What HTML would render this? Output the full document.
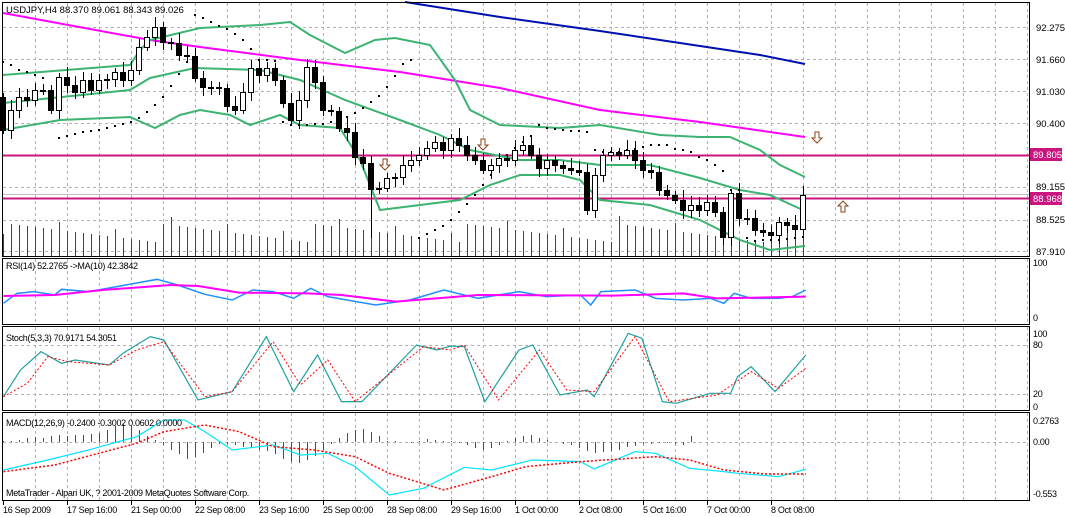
<!DOCTYPE html>
<html><head><meta charset="utf-8"><style>
html,body{margin:0;padding:0;background:#fff;overflow:hidden;width:1065px;height:517px;}
svg{display:block;font-family:"Liberation Sans",sans-serif;}
</style></head><body>
<svg id="s" width="1065" height="517" xmlns="http://www.w3.org/2000/svg">
<rect width="1065" height="517" fill="#fff"/>
<g id="grid" stroke="#b0b0b0" stroke-dasharray="3,3" stroke-width="1"></g>
<g id="main"></g>
<g id="sub" transform="translate(0,250) scale(0.6829,0.3333)"></g>
<g id="frame" fill="none" stroke="#000" stroke-width="1">
<rect x="2.5" y="2.5" width="1027" height="254"/>
<rect x="2.5" y="258.5" width="1027" height="66"/>
<rect x="2.5" y="326.5" width="1027" height="84"/>
<rect x="2.5" y="412.5" width="1027" height="88"/>
</g>
<g font-size="9.5" fill="#000">
<text x="6" y="13">USDJPY,H4  88.370 89.061 88.343 89.026</text>
<text x="1036" y="31">92.275</text>
<text x="1036" y="63">91.660</text>
<text x="1036" y="95">91.030</text>
<text x="1036" y="127">90.400</text>
<text x="1036" y="190">89.155</text>
<text x="1036" y="223">88.525</text>
<text x="1036" y="255">87.910</text>
<rect x="1030" y="148" width="32" height="13" fill="#c8157f"/>
<text x="1033" y="158" fill="#fff">89.805</text>
<rect x="1030" y="192" width="32" height="13" fill="#c8157f"/>
<text x="1033" y="202" fill="#fff">88.968</text>
<g font-size="9" letter-spacing="-0.3">
<text x="6" y="269">RSI(14) 52.2765  -&gt;MA(10) 42.3842</text>
<text x="1033" y="266">100</text><text x="1033" y="321">0</text>
<text x="6" y="341">Stoch(5,3,3) 70.9171 54.3051</text>
<text x="1033" y="337">100</text><text x="1033" y="348">80</text><text x="1033" y="397">20</text><text x="1033" y="410">0</text>
<text x="6" y="426">MACD(12,26,9) -0.2400 -0.3002 0.0602 0.0000</text>
<text x="1033" y="424">0.2763</text><text x="1033" y="445">0.00</text><text x="1033" y="497">-0.553</text>
<text x="6" y="496">MetaTrader - Alpari UK, ? 2001-2009 MetaQuotes Software Corp.</text>
</g>
<g id="tl" font-size="9" letter-spacing="-0.3"></g>
</g>
</svg>
<script>
var NS="http://www.w3.org/2000/svg";
function el(p,t,a){var e=document.createElementNS(NS,t);for(var k in a)e.setAttribute(k,a[k]);document.getElementById(p).appendChild(e);return e;}
for(var x=35;x<1029;x+=32){el('grid','line',{x1:x+.5,y1:3,x2:x+.5,y2:256});el('grid','line',{x1:x+.5,y1:259,x2:x+.5,y2:324});el('grid','line',{x1:x+.5,y1:327,x2:x+.5,y2:410});el('grid','line',{x1:x+.5,y1:413,x2:x+.5,y2:500});}
[27,59,91,123,187,220,251].forEach(function(y){el('grid','line',{x1:3,y1:y+.5,x2:1029,y2:y+.5});});
el('grid','line',{x1:3,y1:194.5,x2:1029,y2:194.5,stroke:'#c0c0c0','stroke-dasharray':'none'});
[345,394].forEach(function(y){el('grid','line',{x1:3,y1:y+.5,x2:1029,y2:y+.5});});
el('grid','line',{x1:3,y1:442.5,x2:1029,y2:442.5});
for(var i=0;i<=100;i++){var x=3+8*i;var h=14+((i*37)%19)+(i%7==0?8:0);if(i==46)h=40;el('main','line',{x1:x+.5,y1:256,x2:x+.5,y2:256-h,stroke:'#007000'});}
function pl(id,pts,c,w,extra){var a={points:pts.map(function(p){return p.join(',')}).join(' '),fill:'none',stroke:c,'stroke-width':w,'vector-effect':'non-scaling-stroke'};for(var k in extra)a[k]=extra[k];return el(id,'polyline',a);}
pl('main',[[3,155.5],[1029,155.5]],'#c8157f',2);
pl('main',[[3,198.5],[1029,198.5]],'#c8157f',2);
pl('main',[[405,2],[500,17],[600,31],[700,46],[760,55],[805,64]],'#0010b0',2);
pl('main',[[3,13],[150,40],[200,47],[300,60],[400,72],[500,88],[600,110],[700,122],[805,137]],'#ff00ff',2);
pl('main',[[3,75],[130,65],[140,50],[150,40],[200,28],[260,25],[290,22],[310,35],[345,53],[375,40],[395,38],[430,45],[455,80],[470,110],[500,125],[560,128],[600,125],[660,135],[700,137],[730,137],[760,150],[780,165],[805,177]],'#3cb371',2);
pl('main',[[3,103],[130,90],[150,78],[195,68],[260,70],[300,80],[345,100],[400,120],[440,135],[470,150],[520,160],[560,160],[600,165],[650,165],[700,178],[740,190],[770,195],[805,211]],'#3cb371',2);
pl('main',[[3,130],[60,120],[130,117],[155,128],[180,115],[200,110],[230,115],[250,125],[280,115],[300,125],[340,128],[360,160],[380,210],[420,205],[460,200],[490,185],[520,175],[560,175],[580,180],[600,200],[650,205],[700,220],[740,240],[770,250],[805,246]],'#3cb371',2);
var sar=[[3,62],[11,65],[19,70],[27,72],[35,75],[43,78],[59,138],[67,136],[75,134],[83,132],[91,131],[99,130],[107,128],[115,126],[123,124],[131,122],[139,118],[147,112],[155,105],[163,97],[171,86],[179,74],[187,62],[195,15],[203,18],[211,22],[219,26],[227,29],[235,34],[243,40],[251,49],[259,60],[267,60],[275,61],[283,122],[291,125],[299,125],[307,125],[315,124],[323,124],[331,122],[339,120],[347,117],[355,113],[363,108],[371,102],[379,96],[387,87],[395,76],[403,64],[411,60],[419,238],[427,234],[435,230],[443,226],[451,220],[459,212],[467,204],[475,195],[483,185],[491,175],[499,165],[507,155],[515,148],[523,142],[531,136],[539,125],[547,128],[555,129],[563,130],[571,131],[579,131],[587,132],[595,150],[603,152],[611,152],[619,152],[627,150],[635,149],[643,147],[651,145],[659,145],[667,145],[675,149],[683,150],[691,152],[699,157],[707,160],[715,165],[723,171],[731,190],[739,190],[747,238],[755,241],[763,240],[771,240],[779,240],[787,239],[795,238],[803,237]];
sar.forEach(function(p){el('main','rect',{x:p[0]-1,y:p[1]-1,width:2,height:2,fill:'#000'});});
var c=[130,110,97,100,90,90,110,77,85,92,80,90,80,79,72,80,70,47,37,27,42,43,55,56,78,87,87,88,106,110,92,68,75,68,80,103,120,100,67,82,110,111,128,132,157,163,189,188,178,177,165,160,155,148,142,150,138,145,155,160,170,165,158,160,150,145,155,168,160,165,168,170,172,210,175,155,152,155,150,160,170,172,190,195,200,210,205,210,202,212,237,193,218,218,230,232,235,222,225,229,195];
var prev=97;
for(var i=0;i<c.length;i++){var o=prev,cl=c[i],x=3+8*i;var t=Math.min(o,cl),b=Math.max(o,cl);
var hi=t-4-(i*13%7),lo=b+4+(i*11%6);if(i==46)lo=238;if(i==19)hi=17;if(i==73)lo=215;if(i==90)lo=245;
el('main','line',{x1:x+.5,y1:hi,x2:x+.5,y2:lo,stroke:'#000'});
var h=Math.max(b-t,1);
el('main','rect',{x:x-2.5,y:t+.5,width:5,height:h,fill:cl<o?'#fff':'#000',stroke:'#000','stroke-width':1});
prev=cl;}
function arr(x,y,down){var d=down?[[x-2,y-6],[x+2,y-6],[x+2,y],[x+5,y],[x,y+5],[x-5,y],[x-2,y]]:[[x-2,y+6],[x+2,y+6],[x+2,y],[x+5,y],[x,y-5],[x-5,y],[x-2,y]];el('main','polygon',{points:d.map(function(p){return p.join(',')}).join(' '),fill:'#fff',stroke:'#8b4513'});}
arr(817,138,true);arr(843,206,false);arr(385,165,true);arr(483,145,true);
function sp(pts,c,w,dash){pl('sub',pts,c,w,dash?{'stroke-dasharray':dash}:{});}
sp([[5,160],[25,130],[50,125],[80,135],[90,118],[130,125],[165,112],[230,88],[260,105],[300,133],[340,150],[370,120],[400,125],[430,145],[455,115],[480,140],[550,165],[600,150],[650,120],[700,145],[760,125],[800,140],[850,135],[865,165],[880,125],[930,120],[960,145],[1000,150],[1040,145],[1060,160],[1075,130],[1100,145],[1140,145],[1160,140],[1180,120]],'#1e90ff',1.5);
sp([[5,138],[80,135],[150,120],[250,105],[290,108],[350,128],[450,130],[500,135],[580,155],[700,135],[900,137],[1000,130],[1050,145],[1180,140]],'#ff00ff',2);
sp([[5,440],[30,360],[60,305],[90,340],[110,330],[160,345],[180,310],[220,260],[240,270],[290,450],[340,425],[390,260],[430,425],[465,315],[500,455],[530,455],[610,285],[640,300],[660,288],[680,290],[710,455],[760,300],[780,285],[820,435],[860,420],[870,440],[920,250],[940,265],[970,455],[990,460],[1040,430],[1070,430],[1080,380],[1100,350],[1135,425],[1180,315]],'#20a0a0',1.2);
sp([[5,440],[40,400],[70,320],[100,335],[160,345],[200,300],[240,275],[300,440],[340,425],[400,275],[440,405],[480,330],[520,455],[620,290],[660,300],[680,285],[730,450],[790,300],[830,420],[870,425],[930,260],[980,455],[1050,435],[1100,365],[1140,415],[1180,355]],'#ff0000',1,'2,2');
var hv=[2,5,8,12,18,15,20,22,20,25,22,28,30,40,55,60,55,40,20,8,-10,-25,-40,-55,-50,-35,-20,-8,-5,-10,-15,-20,-25,-30,-40,-55,-65,-70,-60,-45,-25,-5,15,30,40,45,35,20,5,2,0,-2,5,10,8,5,2,-2,-10,-20,-25,-20,-10,5,15,20,22,15,8,0,-5,-10,-20,-30,-35,-32,-30,-25,-18,-12,-8,-5,-2,-3,-6,-10,20];
for(var i=0;i<hv.length;i++){var x=3+8*i+.5;var v=hv[i];el('main','line',{x1:x,y1:442,x2:x,y2:Math.round(442-v*0.3),stroke:v>=0?'#008000':'#ff0000','stroke-width':1});}
sp([[5,660],[70,630],[130,600],[200,560],[240,510],[270,510],[300,545],[340,600],[400,585],[440,615],[480,610],[520,650],[570,735],[620,715],[680,652],[720,660],[780,630],[850,635],[870,657],[930,605],[960,610],[1010,655],[1060,665],[1080,670],[1140,680],[1180,658]],'#00e5ff',1.2);
sp([[5,665],[80,645],[200,580],[240,545],[300,525],[350,545],[400,590],[460,600],[520,620],[570,670],[650,720],[720,680],[770,650],[850,635],[960,620],[1010,630],[1060,660],[1120,672],[1180,672]],'#ff0000',1.5,'2,2');
var tl=["16 Sep 2009","17 Sep 16:00","21 Sep 00:00","22 Sep 08:00","23 Sep 16:00","25 Sep 00:00","28 Sep 08:00","29 Sep 16:00","1 Oct 00:00","2 Oct 08:00","5 Oct 16:00","7 Oct 00:00","8 Oct 08:00"];
tl.forEach(function(s,i){var x=3+64*i;el('tl','text',{x:x,y:513}).textContent=s;el('tl','line',{x1:x+.5,y1:501,x2:x+.5,y2:505,stroke:'#000'});});
</script>
</body></html>
